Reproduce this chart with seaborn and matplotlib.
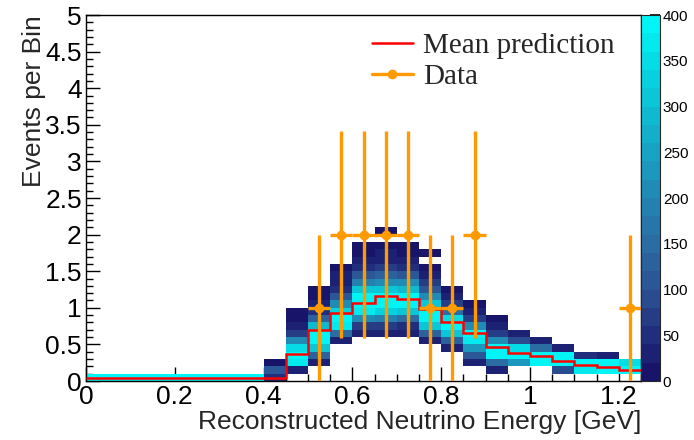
import numpy as np
import pandas as pd
import matplotlib
matplotlib.use("Agg")
import matplotlib.pyplot as plt
from matplotlib.colors import LinearSegmentedColormap
from matplotlib.lines import Line2D
from matplotlib.ticker import MultipleLocator, FuncFormatter
import seaborn as sns

# ---------------- data ----------------
# bin edges (GeV) of the prediction histogram and of the "events per bin" axis
x_edges = [round(0.05 * i, 2) for i in range(26)]
y_edges = [round(0.1 * i, 1) for i in range(51)]

# predicted-toy counts per cell: one list per energy bin, rows from 0 upward (0.1 per row)
pred_cells = [
    [390], [390], [390], [390], [390], [390], [390], [390],          # 0.00 - 0.40
    [40, 110, 15],                                                   # 0.40
    [0, 30, 360, 390, 350, 200, 70, 25, 15, 15],                     # 0.45
    [0, 0, 20, 120, 300, 390, 390, 280, 130, 50, 20, 15, 15],        # 0.50
    [0, 0, 0, 0, 0, 30, 150, 370, 390, 330, 200, 110, 50, 30, 20, 15],  # 0.55
    [0, 0, 0, 0, 0, 0, 20, 60, 200, 360, 390, 390, 300, 180, 100, 50, 25, 15, 15],  # 0.60
    [0, 0, 0, 0, 0, 0, 20, 60, 180, 320, 390, 390, 300, 200, 120, 60, 30, 20, 15, 0, 10],  # 0.65
    [0, 0, 0, 0, 0, 0, 20, 50, 150, 300, 390, 380, 280, 200, 100, 50, 25, 15, 15],  # 0.70
    [0, 0, 0, 0, 0, 30, 120, 300, 380, 390, 300, 200, 100, 60, 25, 15, 0, 10],  # 0.75
    [0, 0, 0, 0, 25, 120, 300, 390, 350, 150, 60, 25, 15],            # 0.80
    [0, 0, 25, 100, 220, 370, 380, 200, 70, 25, 15],                  # 0.85
    [0, 25, 140, 380, 380, 200, 70, 30, 15],                          # 0.90
    [0, 0, 220, 390, 350, 80, 20],                                    # 0.95
    [0, 0, 380, 390, 150, 20],                                        # 1.00
    [0, 80, 380, 380, 25],                                            # 1.05
    [0, 370, 390, 50],                                                # 1.10
    [0, 390, 380, 30],                                                # 1.15
    [0, 390, 350],                                                    # 1.20
]

mean_prediction = [0.04, 0.04, 0.04, 0.04, 0.04, 0.04, 0.04, 0.04, 0.04,
                   0.37, 0.69, 0.93, 1.07, 1.16, 1.12, 0.98, 0.80, 0.66,
                   0.47, 0.38, 0.34, 0.27, 0.22, 0.19, 0.15]

data_energy = [0.525, 0.575, 0.625, 0.675, 0.725, 0.775, 0.825, 0.875, 1.225]
data_events = [1, 2, 2, 2, 2, 1, 1, 2, 1]
data_err = [1.0, 1.414, 1.414, 1.414, 1.414, 1.0, 1.0, 1.414, 1.0]
data_halfwidth = [0.025] * 9

colorbar_ticks = [0, 50, 100, 150, 200, 250, 300, 350, 400]

# ---------------- build table ----------------
rows = []
for i, col in enumerate(pred_cells):
    xc = 0.5 * (x_edges[i] + x_edges[i + 1])
    for j, c in enumerate(col):
        if c > 0:
            yc = 0.5 * (y_edges[j] + y_edges[j + 1])
            rows.append((xc, yc, c))
df = pd.DataFrame(rows, columns=["energy", "events", "count"])

# ---------------- style ----------------
sns.set_style("ticks")
plt.rcParams["font.family"] = ["Liberation Sans", "DejaVu Sans"]

pal = ["#17146a", "#202c7c", "#2a4a8e", "#2c5f9a", "#2a72a6",
       "#2286b2", "#1a9cc0", "#12b2cc", "#0ac8d8", "#04dee6", "#00f6f6"]
cmap = LinearSegmentedColormap.from_list("rootpal", pal, N=20)
orange = "#ff9b00"

fig = plt.figure(figsize=(6.94, 4.40), dpi=100)
L, R, T, B = 86, 641, 15, 381
W, H = 694, 440
ax = fig.add_axes([L / W, 1 - B / H, (R - L) / W, (B - T) / H])
cax = fig.add_axes([R / W, 1 - B / H, 19 / W, (B - T) / H])

sns.histplot(data=df, x="energy", y="events", weights="count",
             bins=[x_edges, y_edges], cmap=cmap, vmin=0, vmax=400,
             cbar=True, cbar_ax=cax, ax=ax, linewidth=0, antialiased=False)

ax.stairs(mean_prediction, x_edges, color="#ff0000", linewidth=1.8,
          baseline=None, zorder=3)

ax.errorbar(data_energy, data_events, xerr=data_halfwidth, yerr=data_err,
            fmt="o", color=orange, markersize=6, elinewidth=2.4,
            capsize=0, zorder=4)

ax.set_xlim(0, 1.25)
ax.set_ylim(0, 5)

fmt = FuncFormatter(lambda v, p: f"{v:g}")
ax.xaxis.set_major_locator(MultipleLocator(0.2))
ax.xaxis.set_minor_locator(MultipleLocator(0.05))
ax.yaxis.set_major_locator(MultipleLocator(0.5))
ax.yaxis.set_minor_locator(MultipleLocator(0.1))
ax.xaxis.set_major_formatter(fmt)
ax.yaxis.set_major_formatter(fmt)
ax.tick_params(which="both", direction="in", top=False, right=False,
               colors="black", width=1)
ax.tick_params(which="major", length=10, labelsize=19, pad=3)
ax.tick_params(which="minor", length=5)
for s in ax.spines.values():
    s.set_color("black")
    s.set_linewidth(1)

ax.set_xlabel("Reconstructed Neutrino Energy [GeV]", fontsize=19, loc="right")
ax.set_ylabel("Events per Bin", fontsize=19, loc="top")
ax.xaxis.set_label_coords(1.0, -0.079)
ax.yaxis.set_label_coords(-0.072, 1.0)

cax.set_yticks(colorbar_ticks)
cax.yaxis.set_major_formatter(FuncFormatter(lambda v, p: f"{v:g}"))
cax.tick_params(direction="in", length=7, width=1.2, labelsize=11, pad=2,
                colors="black")
cax.minorticks_off()

handles = [Line2D([], [], color="#ff0000", lw=1.8),
           Line2D([], [], color=orange, lw=2.4, marker="o", markersize=6)]
ax.legend(handles, ["Mean prediction", "Data"], loc="upper left",
          bbox_to_anchor=((372 - L) / (R - L), 1 - (33 - T) / (B - T)),
          frameon=False, prop={"family": "Liberation Serif", "size": 21},
          handlelength=1.4, handletextpad=0.35, labelspacing=0.15,
          borderaxespad=0, borderpad=0)

fig.savefig("out.png", dpi=100)
